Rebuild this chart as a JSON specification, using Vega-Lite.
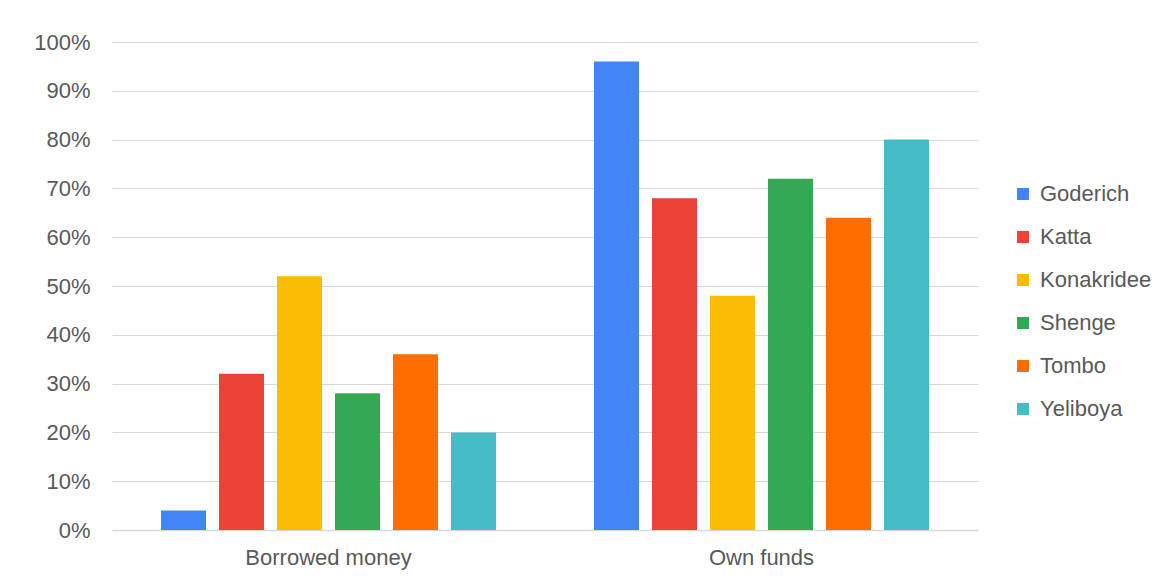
{
  "$schema": "https://vega.github.io/schema/vega-lite/v6.json",
  "width": 866,
  "height": 488,
  "autosize": {"type": "none"},
  "padding": {"left": 112, "top": 42, "right": 194, "bottom": 52},
  "background": "white",
  "config": {
    "view": {"stroke": null},
    "font": "Liberation Sans",
    "axis": {"labelFont": "Liberation Sans", "labelColor": "#595959", "labelFontSize": 22}
  },
  "data": {
    "values": [
      {"source": "Borrowed money", "town": "Goderich", "pct": 0.04},
      {"source": "Borrowed money", "town": "Katta", "pct": 0.32},
      {"source": "Borrowed money", "town": "Konakridee", "pct": 0.52},
      {"source": "Borrowed money", "town": "Shenge", "pct": 0.28},
      {"source": "Borrowed money", "town": "Tombo", "pct": 0.36},
      {"source": "Borrowed money", "town": "Yeliboya", "pct": 0.20},
      {"source": "Own funds", "town": "Goderich", "pct": 0.96},
      {"source": "Own funds", "town": "Katta", "pct": 0.68},
      {"source": "Own funds", "town": "Konakridee", "pct": 0.48},
      {"source": "Own funds", "town": "Shenge", "pct": 0.72},
      {"source": "Own funds", "town": "Tombo", "pct": 0.64},
      {"source": "Own funds", "town": "Yeliboya", "pct": 0.80}
    ]
  },
  "mark": {"type": "bar"},
  "encoding": {
    "x": {
      "field": "source", "type": "nominal", "title": null,
      "scale": {"paddingInner": 0, "paddingOuter": 0},
      "axis": {"labelAngle": 0, "ticks": false, "domainColor": "#D9D9D9", "domainWidth": 1.5, "labelPadding": 17, "labelFontSize": 22}
    },
    "xOffset": {
      "field": "town", "type": "nominal",
      "scale": {"paddingInner": 0.224, "paddingOuter": 0.845}
    },
    "y": {
      "field": "pct", "type": "quantitative", "title": null,
      "scale": {"domain": [0, 1], "nice": false},
      "axis": {"format": ".0%", "values": [0,0.1,0.2,0.3,0.4,0.5,0.6,0.7,0.8,0.9,1.0], "labelOverlap": false, "domain": false, "ticks": false, "labelPadding": 22, "gridColor": "#D9D9D9", "gridWidth": 1.2, "labelFontSize": 22}
    },
    "color": {
      "field": "town", "type": "nominal",
      "scale": {
        "domain": ["Goderich", "Katta", "Konakridee", "Shenge", "Tombo", "Yeliboya"],
        "range": ["#4285F4", "#EA4335", "#FBBC04", "#34A853", "#FF6D01", "#46BDC6"]
      },
      "legend": {
        "title": null, "orient": "none", "legendX": 900, "legendY": 141,
        "symbolType": "square", "symbolSize": 144, "symbolStrokeWidth": 0,
        "labelFontSize": 22, "labelColor": "#595959", "labelFont": "Liberation Sans",
        "rowPadding": 21, "labelOffset": 6
      }
    }
  }
}
